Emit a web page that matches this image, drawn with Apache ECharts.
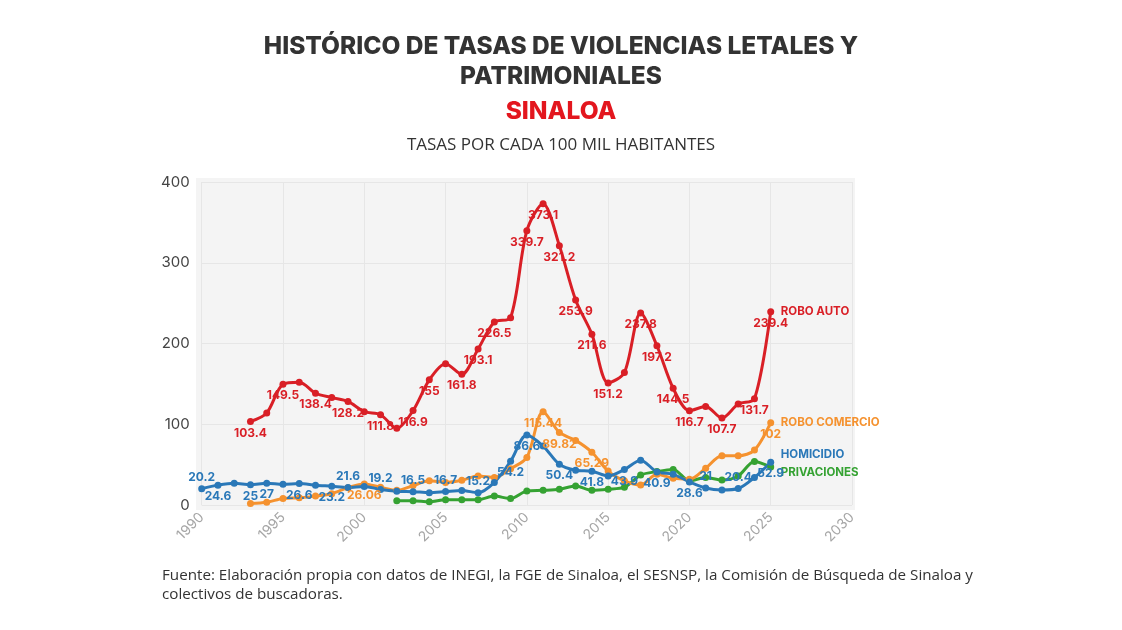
<!DOCTYPE html>
<html><head><meta charset="utf-8">
<script src="https://cdn.jsdelivr.net/npm/echarts@6/dist/echarts.min.js"></script>
<style>html,body{margin:0;padding:0;background:#fff}#c{width:1122px;height:630px}</style>
</head><body><div id="c"></div>
<script>
// ---- DATA ----
const roboAutoYears = [1993,1994,1995,1996,1997,1998,1999,2000,2001,2002,2003,2004,2005,2006,2007,2008,2009,2010,2011,2012,2013,2014,2015,2016,2017,2018,2019,2020,2021,2022,2023,2024,2025];
const roboAutoValues = [103.4,114,149.5,152,138.4,133,128.2,115.5,111.8,95,116.9,155,175,161.8,193.1,226.5,232,339.7,373.1,321.2,253.9,211.6,151.2,164,237.8,197.2,144.5,116.7,122,107.7,125,131.7,239.4];

const roboComercioYears = [1993,1994,1995,1996,1997,1998,1999,2000,2001,2002,2003,2004,2005,2006,2007,2008,2009,2010,2011,2012,2013,2014,2015,2016,2017,2018,2019,2020,2021,2022,2023,2024,2025];
const roboComercioValues = [2,3.5,8,9,11,14,21.5,26.06,22,18.2,24,30,28,30.7,36,34,45,58.8,115.44,89.82,80,65.29,42,30,24.8,38,33,32,45.6,61,61,68,102];

const homicidioYears = [1990,1991,1992,1993,1994,1995,1996,1997,1998,1999,2000,2001,2002,2003,2004,2005,2006,2007,2008,2009,2010,2011,2012,2013,2014,2015,2016,2017,2018,2019,2020,2021,2022,2023,2024,2025];
const homicidioValues = [20.2,24.6,27,25,27,25.6,26.6,24.6,23.2,21.6,23,19.2,17,16.5,15.3,16.7,18,15.2,28,54.2,86.6,73,50.4,43,41.8,36,43.9,55.5,40.9,38,28.6,21,18.6,20.4,34,52.9];

const privacionesYears = [2002,2003,2004,2005,2006,2007,2008,2009,2010,2011,2012,2013,2014,2015,2016,2017,2018,2019,2020,2021,2022,2023,2024,2025];
const privacionesValues = [5.4,5.4,4.1,6.6,6.6,6.6,11,8,17.4,18.2,19.5,23.6,18.2,19.5,22,37,41.4,44,30,34,31,36,54,47];

const xTicks = [1990,1995,2000,2005,2010,2015,2020,2025,2030];
const yTicks = [0,100,200,300,400];

// years whose value is printed on the chart
const roboAutoLabelsBottom = [1993,1995,1997,1999,2001,2003,2004,2006,2007,2008,2010,2011,2012,2013,2014,2015,2017,2018,2019,2020,2022,2024,2025];
const roboComercioLabelsBottom = [2000,2011,2012,2014,2025];
const homicidioLabelsTop = [1990,1999,2001,2003,2005,2007,2021,2023];
const homicidioLabelsBottom = [1991,1993,1994,1996,1998,2009,2010,2012,2014,2016,2018,2020,2025];

// ---- STYLE ----
const C = {auto:'#d91f26', comercio:'#f5922f', homicidio:'#2a78b8', privaciones:'#35a232'};
const FONT = 'Inter, "Open Sans", sans-serif';

function build(years, values, topList, bottomList) {
  return years.map((y, i) => {
    const d = {value: [y, values[i]]};
    if (topList.indexOf(y) >= 0) {
      d.label = {show: true, position: 'top', distance: 2};
      if (y === 1990) d.label.offset = [11, 0];
    } else if (bottomList.indexOf(y) >= 0) {
      d.label = {show: true, position: 'bottom', distance: 2};
    }
    return d;
  });
}

function mkSeries(name, color, data, endOffset) {
  return {
    name: name, type: 'line', data: data, smooth: 0.3,
    symbol: 'circle', symbolSize: 7,
    lineStyle: {width: 3, color: color},
    itemStyle: {color: color},
    label: {show: false, color: color, fontSize: 12, fontWeight: 'bold', fontFamily: FONT,
            formatter: p => String(p.value[1])},
    endLabel: {show: true, formatter: name, color: color, fontSize: 11.5, fontWeight: 'bold',
               fontFamily: FONT, distance: 10, offset: endOffset},
    labelLayout: {hideOverlap: false},
    emphasis: {disabled: true}
  };
}

const TITLE_STYLE = {fontSize: 24.5, fontWeight: 800, color: '#333333', fontFamily: FONT};

const chart = echarts.init(document.getElementById('c'), null, {renderer: 'canvas'});
chart.setOption({
  animation: false,
  backgroundColor: '#ffffff',
  title: [
    {text: 'HISTÓRICO DE TASAS DE VIOLENCIAS LETALES Y', left: 'center', top: 29, textStyle: TITLE_STYLE},
    {text: 'PATRIMONIALES', left: 'center', top: 59, textStyle: TITLE_STYLE},
    {text: 'SINALOA', left: 'center', top: 94,
     textStyle: Object.assign({}, TITLE_STYLE, {color: '#e3161e'})},
    {text: 'TASAS POR CADA 100 MIL HABITANTES', left: 'center', top: 132,
     textStyle: {fontSize: 17, fontWeight: 'normal', color: '#333333', fontFamily: '"Open Sans", sans-serif'}},
    {text: 'Fuente: Elaboración propia con datos de INEGI, la FGE de Sinaloa, el SESNSP, la Comisión de Búsqueda de Sinaloa y\ncolectivos de buscadoras.',
     left: 157, top: 561,
     textStyle: {fontSize: 15.2, fontWeight: 'normal', color: '#333333', fontFamily: '"Open Sans", sans-serif', lineHeight: 19}}
  ],
  graphic: {elements: [
    {type: 'rect', z: -10, silent: true, shape: {x: 196, y: 178, width: 659, height: 332},
     style: {fill: '#f4f4f4'}}
  ]},
  grid: {left: 201.7, right: 270, top: 182, bottom: 125, containLabel: false},
  xAxis: {
    type: 'value', min: xTicks[0], max: xTicks[xTicks.length - 1], interval: 5,
    axisLine: {show: false}, axisTick: {show: false},
    splitLine: {show: true, lineStyle: {color: '#e6e6e6', width: 1}},
    axisLabel: {rotate: 45, color: '#a6a6a6', fontSize: 14, fontFamily: FONT, margin: 10,
                formatter: v => String(v)}
  },
  yAxis: {
    type: 'value', min: yTicks[0], max: yTicks[yTicks.length - 1], interval: 100,
    axisLine: {show: false}, axisTick: {show: false},
    splitLine: {show: true, lineStyle: {color: '#e6e6e6', width: 1}},
    axisLabel: {color: '#444444', fontSize: 15, fontFamily: FONT, margin: 12}
  },
  series: [
    mkSeries('PRIVACIONES', C.privaciones, build(privacionesYears, privacionesValues, [], []), [0, 5]),
    mkSeries('ROBO COMERCIO', C.comercio, build(roboComercioYears, roboComercioValues, [], roboComercioLabelsBottom), [0, 0]),
    mkSeries('HOMICIDIO', C.homicidio, build(homicidioYears, homicidioValues, homicidioLabelsTop, homicidioLabelsBottom), [0, -8]),
    mkSeries('ROBO AUTO', C.auto, build(roboAutoYears, roboAutoValues, [], roboAutoLabelsBottom), [0, 0])
  ]
});
</script>
</body></html>
